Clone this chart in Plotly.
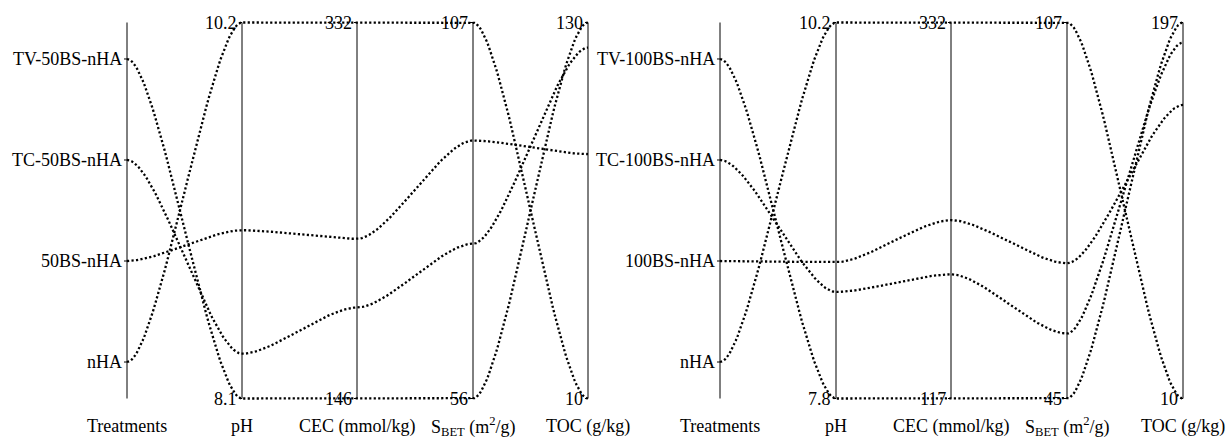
import numpy as np
import plotly.graph_objects as go

# ---- data -------------------------------------------------------------
dims = ["Treatments", "pH", "CEC (mmol/kg)", "S<sub>BET</sub> (m<sup>2</sup>/g)", "TOC (g/kg)"]

treat_50 = ["TV-50BS-nHA", "TC-50BS-nHA", "50BS-nHA", "nHA"]
ph_50 = [8.1, 8.35, 9.04, 10.2]
cec_50 = [146, 191, 225, 332]
sbet_50 = [56, 77, 91, 107]
toc_50 = [130, 122, 88, 10]

treat_100 = ["TV-100BS-nHA", "TC-100BS-nHA", "100BS-nHA", "nHA"]
ph_100 = [7.8, 8.48, 8.67, 10.2]
cec_100 = [117, 188, 219, 332]
sbet_100 = [45, 55.7, 67.3, 107]
toc_100 = [197, 187, 156, 10]

# ---- layout constants -------------------------------------------------
W, H = 1232, 439
AX_TOP_PX, AX_BOT_PX = 22.5, 398.5
axis_x_left = [127, 242, 357, 473, 588]
axis_x_right = [720, 836, 951, 1067, 1183]
CAT_PAD = 0.097          # padding at both ends of the category axis
SMOOTH = 0.27            # horizontal control-point fraction for the curves
FONT = dict(family="Liberation Serif", size=18, color="black")

# y axis range so that 0 -> bottom of parallel axes and 1 -> top
span = (AX_BOT_PX - AX_TOP_PX) / H
y_hi = (AX_BOT_PX / H) / span
y_lo = y_hi - 1 / span

fig = go.Figure()
shapes, annotations = [], []


def cat_positions(n):
    step = (1 - 2 * CAT_PAD) / (n - 1)
    # first category at the top
    return [1 - CAT_PAD - i * step for i in range(n)]


def norm(vals):
    lo, hi = min(vals), max(vals)
    return [(v - lo) / (hi - lo) for v in vals], lo, hi


def fmt(v):
    return f"{v:g}"


def bezier_path(xs, ys, n=60):
    px, py = [], []
    for i in range(len(xs) - 1):
        x0, x1, y0, y1 = xs[i], xs[i + 1], ys[i], ys[i + 1]
        dx = x1 - x0
        c0x, c1x = x0 + SMOOTH * dx, x1 - SMOOTH * dx
        t = np.linspace(0, 1, n)
        bx = (1 - t) ** 3 * x0 + 3 * (1 - t) ** 2 * t * c0x + 3 * (1 - t) * t ** 2 * c1x + t ** 3 * x1
        by = (1 - t) ** 3 * y0 + 3 * (1 - t) ** 2 * t * y0 + 3 * (1 - t) * t ** 2 * y1 + t ** 3 * y1
        if i > 0:
            bx, by = bx[1:], by[1:]
        px.extend(bx.tolist())
        py.extend(by.tolist())
    return px, py


def add_panel(axis_x, treats, numeric_cols):
    cat_y = cat_positions(len(treats))
    normed = [norm(col) for col in numeric_cols]

    # axis lines
    for x in axis_x:
        shapes.append(dict(type="line", xref="x", yref="y", x0=x, x1=x, y0=0, y1=1,
                           line=dict(color="black", width=1)))
    # category labels and ticks
    for name, y in zip(treats, cat_y):
        shapes.append(dict(type="line", xref="x", yref="y", x0=axis_x[0] - 3, x1=axis_x[0], y0=y, y1=y,
                           line=dict(color="black", width=1)))
        annotations.append(dict(x=axis_x[0] - 3, y=y, xref="x", yref="y", text=name, showarrow=False,
                                xanchor="right", yanchor="middle", font=FONT))
    # numeric axes: min / max labels
    for x, (_, lo, hi) in zip(axis_x[1:], normed):
        for yv, val in ((1, hi), (0, lo)):
            shapes.append(dict(type="line", xref="x", yref="y", x0=x - 3, x1=x, y0=yv, y1=yv,
                               line=dict(color="black", width=1)))
            annotations.append(dict(x=x - 3, y=yv, xref="x", yref="y", text=fmt(val), showarrow=False,
                                    xanchor="right", yanchor="middle", font=FONT))
    # axis titles
    for x, title in zip(axis_x, dims):
        annotations.append(dict(x=x, y=1 - 426 / H, xref="x", yref="paper", text=title, showarrow=False,
                                xanchor="center", yanchor="middle", font=FONT))
    # one smooth dotted polyline per treatment
    for i in range(len(treats)):
        ys = [cat_y[i]] + [nc[0][i] for nc in normed]
        px, py = bezier_path(axis_x, ys)
        fig.add_trace(go.Scatter(x=px, y=py, mode="lines", hoverinfo="skip", showlegend=False,
                                 line=dict(color="black", width=2.3, dash="2.2px,2.3px")))


add_panel(axis_x_left, treat_50, [ph_50, cec_50, sbet_50, toc_50])
add_panel(axis_x_right, treat_100, [ph_100, cec_100, sbet_100, toc_100])

fig.update_layout(
    width=W, height=H,
    margin=dict(l=0, r=0, t=0, b=0),
    paper_bgcolor="white", plot_bgcolor="white",
    font=FONT,
    xaxis=dict(range=[0, W], visible=False, fixedrange=True),
    yaxis=dict(range=[y_lo, y_hi], visible=False, fixedrange=True),
    shapes=shapes, annotations=annotations,
)

fig.write_html("out.html")
